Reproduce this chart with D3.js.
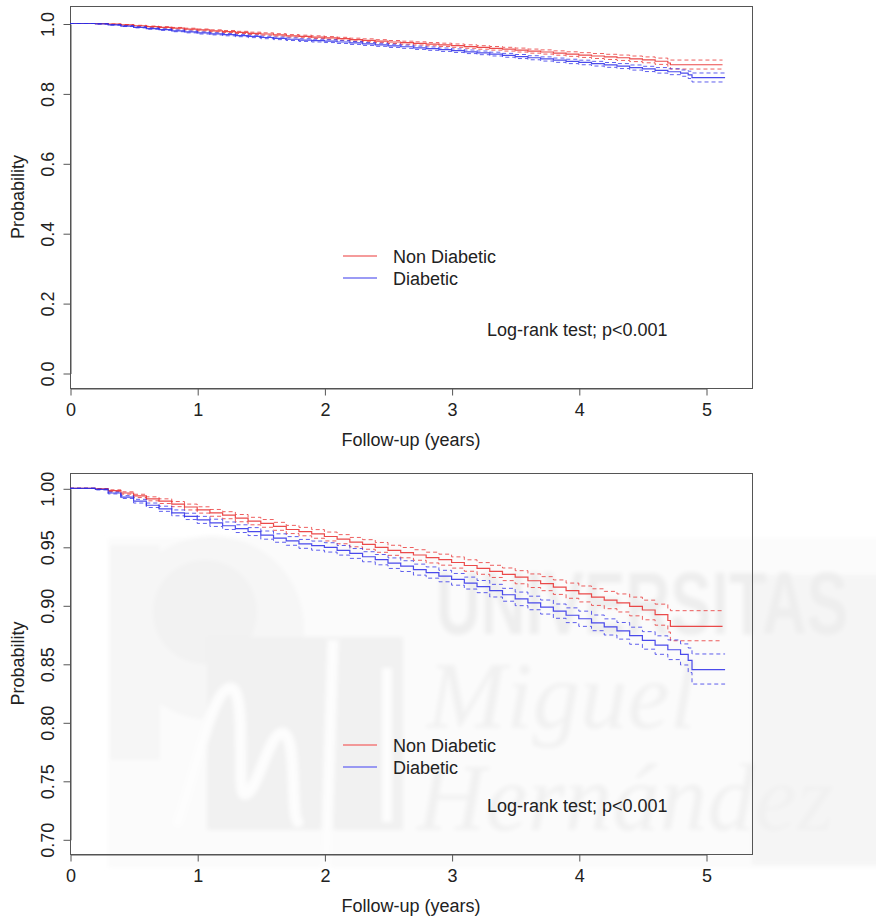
<!DOCTYPE html>
<html>
<head>
<meta charset="utf-8">
<script src="https://cdn.jsdelivr.net/npm/d3@7"></script>
<style>
  html, body { margin: 0; padding: 0; background: #ffffff; }
  svg { display: block; font-family: "Liberation Sans", Arial, Helvetica, sans-serif; }
</style>
</head>
<body>
<svg id="chart" width="876" height="919"></svg>
<script>
// ---- Kaplan-Meier survival estimates with 95% confidence bands ----
const groups = ["Non Diabetic", "Diabetic"];
const groupColors = ["#e82a2a", "#2a2ae8"];
const legendColors = ["#f27a7a", "#7a7af2"];
const testLabel = "Log-rank test; p<0.001";

// Non Diabetic
const timesNonDiabetic = [0,0.1,0.2,0.3,0.4,0.5,0.6,0.7,0.8,0.9,1,1.1,1.2,1.3,1.4,1.5,1.6,1.7,1.8,1.9,2,2.1,2.2,2.3,2.4,2.5,2.6,2.7,2.8,2.9,3,3.1,3.2,3.3,3.4,3.5,3.6,3.7,3.8,3.9,4,4.1,4.2,4.3,4.4,4.5,4.6,4.7,4.72,5.13];
const survNonDiabetic = [1,1,0.9995,0.998,0.996,0.9935,0.991,0.989,0.9865,0.984,
  0.9815,0.979,0.977,0.9745,0.972,0.970,0.9675,0.9648,0.963,0.961,
  0.9588,0.9565,0.954,0.952,0.9495,0.947,0.945,0.943,0.9408,0.939,
  0.9366,0.934,0.9315,0.929,0.9265,0.924,0.921,0.9185,0.9155,0.9125,
  0.9097,0.907,0.9045,0.902,0.899,0.896,0.892,0.887,0.882,0.882];
const upperNonDiabetic = [1,1,0.9998,0.9987,0.997,0.9949,0.9927,0.991,0.9887,0.9865,
  0.9842,0.9819,0.98,0.9776,0.9752,0.9733,0.9709,0.9683,0.9666,0.9647,
  0.9626,0.9604,0.958,0.9561,0.9537,0.9513,0.9494,0.9475,0.9454,0.9437,
  0.9414,0.9389,0.9365,0.9342,0.9319,0.9296,0.9268,0.9245,0.9217,0.919,
  0.9165,0.9141,0.9119,0.9097,0.907,0.9044,0.901,0.8968,0.8954,0.8954];
const lowerNonDiabetic = [1,1,0.9992,0.9973,0.995,0.9921,0.9893,0.987,0.9843,0.9815,
  0.9788,0.9761,0.974,0.9714,0.9688,0.9667,0.9641,0.9613,0.9594,0.9573,
  0.955,0.9526,0.95,0.9479,0.9453,0.9427,0.9406,0.9385,0.9362,0.9343,
  0.9318,0.9291,0.9265,0.9238,0.9211,0.9184,0.9152,0.9125,0.9093,0.906,
  0.9029,0.8999,0.8971,0.8943,0.891,0.8876,0.883,0.8772,0.8697,0.8697];

// Diabetic
const timesDiabetic = [0,0.1,0.2,0.3,0.4,0.5,0.6,0.7,0.8,0.9,1,1.1,1.2,1.3,1.4,1.5,1.6,1.7,1.8,1.9,2,2.1,2.2,2.3,2.4,2.5,2.6,2.7,2.8,2.9,3,3.1,3.2,3.3,3.4,3.5,3.6,3.7,3.8,3.9,4,4.1,4.2,4.3,4.4,4.5,4.6,4.7,4.8,4.86,4.89,5.15];
const survDiabetic = [1,1,0.999,0.996,0.9925,0.989,0.9855,0.9825,0.979,0.976,
  0.973,0.9705,0.968,0.9655,0.963,0.960,0.9575,0.955,0.9525,0.951,
  0.9495,0.947,0.9443,0.9415,0.939,0.936,0.9335,0.9305,0.928,0.925,
  0.9222,0.919,0.916,0.9125,0.909,0.9055,0.902,0.8985,0.895,0.8915,
  0.8885,0.885,0.8815,0.8782,0.874,0.870,0.866,0.862,0.858,0.853,
  0.845,0.845];
const upperDiabetic = [1,1,0.9994,0.9968,0.9937,0.9906,0.9874,0.9847,0.9815,0.9787,
  0.976,0.9736,0.9712,0.9688,0.9664,0.9635,0.9611,0.9587,0.9563,0.9549,
  0.9535,0.9511,0.9485,0.9458,0.9434,0.9405,0.9381,0.9352,0.9328,0.9299,
  0.9272,0.9241,0.9212,0.9179,0.9145,0.9113,0.9078,0.9045,0.9011,0.8978,
  0.895,0.8917,0.8884,0.8853,0.8813,0.8775,0.8739,0.8704,0.867,0.8635,
  0.8584,0.8584];
const lowerDiabetic = [1,1,0.9986,0.9952,0.9913,0.9874,0.9836,0.9803,0.9765,0.9733,
  0.97,0.9674,0.9648,0.9622,0.9596,0.9565,0.9539,0.9513,0.9487,0.9471,
  0.9455,0.9429,0.9401,0.9372,0.9346,0.9315,0.9289,0.9258,0.9232,0.9201,
  0.9172,0.9139,0.9108,0.9071,0.9035,0.8997,0.8962,0.8925,0.8889,0.8852,
  0.882,0.8783,0.8746,0.8711,0.8667,0.8625,0.8581,0.8536,0.849,0.8425,
  0.8327,0.8327];

// Axis ticks
const xTicks = [0, 1, 2, 3, 4, 5];
const xTickLabels = ["0", "1", "2", "3", "4", "5"];
const topYTicks = [0, 0.2, 0.4, 0.6, 0.8, 1.0];
const topYTickLabels = ["0.0", "0.2", "0.4", "0.6", "0.8", "1.0"];
const zoomYTicks = [0.70, 0.75, 0.80, 0.85, 0.90, 0.95, 1.00];
const zoomYTickLabels = ["0.70", "0.75", "0.80", "0.85", "0.90", "0.95", "1.00"];
const xTitle = "Follow-up (years)";
const yTitle = "Probability";

// ---- layout ----
const svg = d3.select("#chart");
const FONT = 18;
const TEXT = "#222";
const AXIS = "#555";
const boxLeft = 70, boxRight = 752;
const x = d3.scaleLinear().domain([0, 5]).range([70, 706]);

const panels = [
  { top: 6, bottom: 388, y: d3.scaleLinear().domain([0, 1]).range([373, 23.5]),
    ticks: topYTicks, labels: topYTickLabels, legendY: 256, testY: 336 },
  { top: 473, bottom: 854, y: d3.scaleLinear().domain([0.70, 1.00]).range([839.3, 488.3]),
    ticks: zoomYTicks, labels: zoomYTickLabels, legendY: 745, testY: 811.7 }
];

const series = [
  { times: timesNonDiabetic, est: survNonDiabetic, up: upperNonDiabetic, lo: lowerNonDiabetic },
  { times: timesDiabetic, est: survDiabetic, up: upperDiabetic, lo: lowerDiabetic }
];

// ---- faint university watermark behind the lower panel ----
const defs = svg.append("defs");
defs.append("filter").attr("id", "soft")
  .attr("x", "-10%").attr("y", "-10%").attr("width", "120%").attr("height", "120%")
  .append("feGaussianBlur").attr("stdDeviation", 2.2);

const wm = svg.append("g").attr("filter", "url(#soft)");
wm.append("rect").attr("x", 108).attr("y", 538).attr("width", 780).attr("height", 330).attr("fill", "#fbfbfb");
wm.append("rect").attr("x", 752).attr("y", 575).attr("width", 130).attr("height", 290).attr("fill", "#f5f5f5");
wm.append("rect").attr("x", 110).attr("y", 545).attr("width", 50).attr("height", 215).attr("fill", "#f6f6f6");
wm.append("circle").attr("cx", 212).attr("cy", 628).attr("r", 92).attr("fill", "#f6f6f6");
wm.append("circle").attr("cx", 205).attr("cy", 612).attr("r", 52).attr("fill", "#f2f2f2");
wm.append("rect").attr("x", 207).attr("y", 637).attr("width", 196).attr("height", 193).attr("fill", "#f1f1f1");
wm.append("path")
  .attr("d", "M178,822 C196,770 212,690 230,688 C248,686 236,792 244,794 C256,798 268,734 282,733 C298,732 290,815 298,822")
  .attr("fill", "none").attr("stroke", "#fdfdfd").attr("stroke-width", 11).attr("stroke-linecap", "round");
wm.append("line").attr("x1", 333).attr("x2", 326).attr("y1", 640).attr("y2", 868)
  .attr("stroke", "#fdfdfd").attr("stroke-width", 11);
wm.append("line").attr("x1", 387).attr("x2", 387).attr("y1", 668).attr("y2", 822)
  .attr("stroke", "#fdfdfd").attr("stroke-width", 10);
// tall condensed lettering: a smaller face stretched vertically
wm.append("text").attr("x", 436).attr("y", 0)
  .attr("transform", "translate(0,634) scale(1,1.45)")
  .attr("font-family", "'Liberation Sans',Arial,sans-serif")
  .attr("font-weight", "bold").attr("font-size", 62)
  .attr("fill", "#eeeeee").text("UNIVERSITAS");
wm.append("text").attr("x", 427).attr("y", 728)
  .attr("font-family", "'Liberation Serif','Times New Roman',serif")
  .attr("font-style", "italic").attr("font-size", 95)
  .attr("fill", "#f1f1f1").text("Miguel");
wm.append("text").attr("x", 417).attr("y", 830)
  .attr("font-family", "'Liberation Serif','Times New Roman',serif")
  .attr("font-style", "italic").attr("font-size", 95)
  .attr("fill", "#f1f1f1").text("Hernández");

// ---- panels ----
panels.forEach(p => {
  const g = svg.append("g");

  // plot frame
  g.append("rect")
    .attr("x", boxLeft + 0.5).attr("y", p.top + 0.5)
    .attr("width", boxRight - boxLeft).attr("height", p.bottom - p.top)
    .attr("fill", "none").attr("stroke", AXIS).attr("stroke-width", 1);

  // x axis
  const xa = g.append("g").attr("transform", `translate(0.5,${p.bottom + 0.5})`)
    .call(d3.axisBottom(x).tickValues(xTicks).tickFormat((d, i) => xTickLabels[i])
      .tickSize(7).tickSizeOuter(0));
  xa.select(".domain").attr("stroke", AXIS);
  xa.selectAll(".tick line").attr("stroke", AXIS);
  xa.selectAll(".tick text").attr("y", 27).attr("dy", 0)
    .attr("font-size", FONT).attr("font-family", null).attr("fill", TEXT);

  // y axis with rotated labels
  const ya = g.append("g").attr("transform", `translate(${boxLeft + 0.5},0.5)`)
    .call(d3.axisLeft(p.y).tickValues(p.ticks).tickFormat((d, i) => p.labels[i])
      .tickSize(7).tickSizeOuter(0));
  ya.select(".domain").attr("stroke", AXIS);
  ya.selectAll(".tick line").attr("stroke", AXIS);
  ya.selectAll(".tick text")
    .attr("transform", "rotate(-90)")
    .attr("x", 0).attr("y", -16.5).attr("dy", 0)
    .attr("text-anchor", "middle")
    .attr("font-size", FONT).attr("font-family", null).attr("fill", TEXT);

  // axis titles
  g.append("text")
    .attr("x", (boxLeft + boxRight) / 2).attr("y", p.bottom + 58)
    .attr("text-anchor", "middle").attr("font-size", FONT).attr("fill", TEXT)
    .text(xTitle);
  g.append("text")
    .attr("transform", `translate(24,${(p.top + p.bottom) / 2}) rotate(-90)`)
    .attr("text-anchor", "middle").attr("font-size", FONT).attr("fill", TEXT)
    .text(yTitle);

  // survival curves
  const step = d3.line().curve(d3.curveStepAfter)
    .x(d => x(d[0])).y(d => p.y(d[1]));
  series.forEach((s, gi) => {
    const col = groupColors[gi];
    [s.up, s.lo].forEach(band => {
      g.append("path")
        .datum(s.times.map((t, i) => [t, band[i]]))
        .attr("d", step).attr("fill", "none")
        .attr("stroke", col).attr("stroke-opacity", 0.75)
        .attr("stroke-width", 1).attr("stroke-dasharray", "4,3");
    });
    g.append("path")
      .datum(s.times.map((t, i) => [t, s.est[i]]))
      .attr("d", step).attr("fill", "none")
      .attr("stroke", col).attr("stroke-opacity", 0.85)
      .attr("stroke-width", 1.2);
  });

  // legend
  groups.forEach((name, i) => {
    const ly = p.legendY + i * 22;
    g.append("line").attr("x1", 343).attr("x2", 377).attr("y1", ly).attr("y2", ly)
      .attr("stroke", legendColors[i]).attr("stroke-width", 1.6);
    g.append("text").attr("x", 393).attr("y", ly + 7)
      .attr("font-size", FONT).attr("fill", TEXT).text(name);
  });
  g.append("text").attr("x", 487).attr("y", p.testY)
    .attr("font-size", FONT).attr("fill", TEXT).text(testLabel);
});
</script>
</body>
</html>
